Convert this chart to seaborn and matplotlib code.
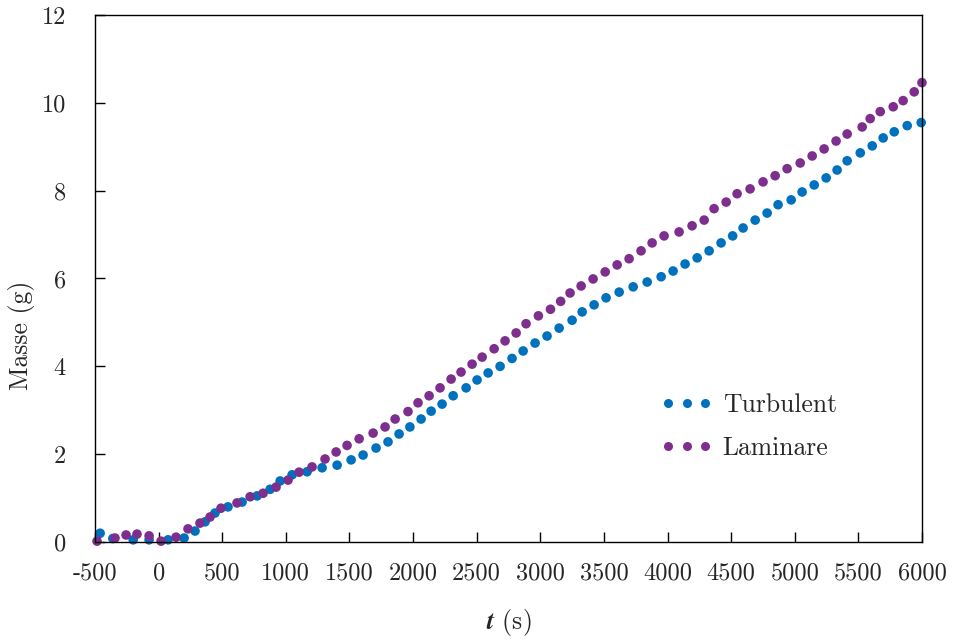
import matplotlib
matplotlib.use("Agg")
import matplotlib.pyplot as plt
from matplotlib.lines import Line2D
import seaborn as sns
import pandas as pd

# Turbulent series (t in s, masse in g)
t_turb = [-460, -360, -200, -75, 74, 200, 286, 365, 443, 545, 656, 774, 876, 955,
          1049, 1167, 1285, 1403, 1513, 1607, 1709, 1803, 1890, 1975, 2063, 2142,
          2228, 2315, 2417, 2503, 2590, 2684, 2778, 2865, 2959, 3053, 3148, 3250,
          3329, 3423, 3517, 3620, 3730, 3840, 3950, 4044, 4138, 4233, 4327, 4421,
          4512, 4594, 4689, 4783, 4869, 4972, 5058, 5153, 5247, 5333, 5412, 5515,
          5609, 5695, 5782, 5884, 5994]
m_turb = [0.20, 0.08, 0.05, 0.05, 0.05, 0.09, 0.25, 0.46, 0.66, 0.80, 0.91, 1.05, 1.20, 1.39,
          1.53, 1.60, 1.69, 1.75, 1.87, 1.98, 2.14, 2.28, 2.46, 2.62, 2.80, 2.98,
          3.14, 3.33, 3.51, 3.69, 3.85, 4.00, 4.18, 4.35, 4.53, 4.69, 4.87, 5.05,
          5.24, 5.40, 5.56, 5.69, 5.81, 5.92, 6.04, 6.17, 6.33, 6.47, 6.63, 6.81,
          6.97, 7.15, 7.33, 7.49, 7.68, 7.79, 7.97, 8.13, 8.29, 8.47, 8.68, 8.86,
          9.02, 9.20, 9.34, 9.48, 9.55]

# Laminare series
t_lam = [-484, -343, -256, -170, -75, 19, 137, 231, 325, 404, 490, 616, 719, 821, 923,
         1017, 1104, 1206, 1308, 1395, 1481, 1576, 1686, 1780, 1859, 1960, 2039, 2126,
         2212, 2299, 2377, 2464, 2543, 2637, 2723, 2810, 2888, 2985, 3080, 3160, 3234,
         3321, 3415, 3510, 3604, 3698, 3792, 3879, 3973, 4091, 4193, 4288, 4366, 4461,
         4547, 4649, 4751, 4846, 4940, 5043, 5137, 5231, 5325, 5412, 5530, 5593, 5672,
         5774, 5852, 5939, 6000]
m_lam = [0.02, 0.09, 0.16, 0.18, 0.14, 0.02, 0.11, 0.30, 0.43, 0.57, 0.77, 0.89, 1.03, 1.11, 1.25,
         1.41, 1.59, 1.71, 1.89, 2.05, 2.20, 2.35, 2.48, 2.62, 2.80, 2.97, 3.17, 3.33,
         3.51, 3.71, 3.87, 4.05, 4.21, 4.40, 4.58, 4.76, 4.97, 5.15, 5.30, 5.48, 5.67,
         5.83, 5.99, 6.15, 6.31, 6.45, 6.63, 6.81, 6.97, 7.06, 7.20, 7.33, 7.59, 7.74,
         7.93, 8.04, 8.20, 8.34, 8.50, 8.63, 8.79, 8.95, 9.13, 9.29, 9.45, 9.64, 9.80,
         9.91, 10.05, 10.25, 10.46]

series_names = ["Turbulent", "Laminare"]
colors = ["#0072BD", "#7E2F8E"]
xticks = [-500, 0, 500, 1000, 1500, 2000, 2500, 3000, 3500, 4000, 4500, 5000, 5500, 6000]
yticks = [0, 2, 4, 6, 8, 10, 12]

df = pd.concat([
    pd.DataFrame({"t": t_turb, "m": m_turb, "serie": series_names[0]}),
    pd.DataFrame({"t": t_lam, "m": m_lam, "serie": series_names[1]}),
])

sns.set_style("ticks")
plt.rcParams["font.family"] = "serif"
plt.rcParams["font.serif"] = ["cmr10"]
plt.rcParams["mathtext.fontset"] = "cm"
plt.rcParams["axes.unicode_minus"] = False

fig = plt.figure(figsize=(9.55, 6.4), dpi=100)
ax = fig.add_axes([0.0995, 0.1531, 0.8659, 0.8235])

sns.scatterplot(data=df, x="t", y="m", hue="serie", palette=dict(zip(series_names, colors)),
                s=48, linewidth=0, edgecolor="none", legend=False, ax=ax, clip_on=False)

ax.set_xlim(-500, 6000)
ax.set_ylim(0, 12)
ax.set_xticks(xticks)
ax.set_xticklabels([str(v) for v in xticks])
ax.set_yticks(yticks)
ax.set_yticklabels([str(v) for v in yticks])
ax.tick_params(direction="in", length=7, width=1, labelsize=17.5, color="black")
ax.tick_params(axis="x", pad=15)
ax.tick_params(axis="y", pad=21)
for sp in ax.spines.values():
    sp.set_visible(True)
    sp.set_color("black")
    sp.set_linewidth(1)

ax.set_xlabel(r"$\boldsymbol{t}$ (s)", fontsize=18.5, labelpad=16)
ax.set_ylabel("Masse (g)", fontsize=18.5)
ax.yaxis.set_label_coords(-0.0726, 0.393)

handles = [Line2D([], [], marker="o", linestyle="none", markersize=6.5,
                  markerfacecolor=c, markeredgecolor="none") for c in colors]
ax.legend(handles, series_names, loc="upper left", bbox_to_anchor=(0.668, 0.306),
          frameon=False, numpoints=3, handlelength=2.05, handletextpad=0.38,
          labelspacing=0.75, fontsize=18.5, borderpad=0)

fig.savefig("out.png", dpi=100)
